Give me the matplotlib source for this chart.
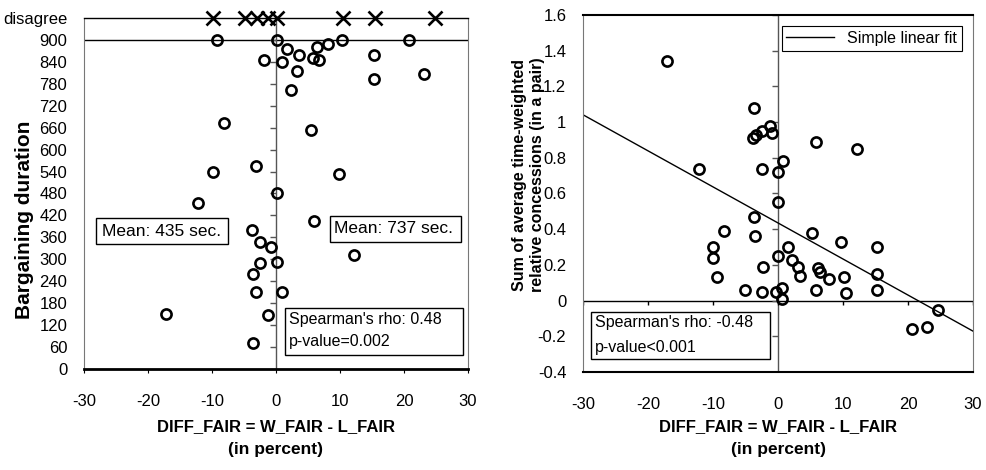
import numpy as np
import matplotlib
matplotlib.use("Agg")
import matplotlib.pyplot as plt
from matplotlib.lines import Line2D
from matplotlib.patches import Rectangle

plt.rcParams['font.family'] = ['Liberation Sans', 'DejaVu Sans']
plt.rcParams['axes.unicode_minus'] = False

# left panel: bargaining duration vs DIFF_FAIR
dur_x = [-9.2, 0.1, 10.3, 20.8, -8.2, -9.8, -12.2,
         1.7, -1.9, 0.9, 3.6, 3.3, 2.3, 6.4, 5.8, 6.7, 8.1, 15.3, 15.3, 23.1,
         -3.1, 5.5, 9.8, 0.1, 5.9,
         -3.8, -2.5, -0.8, -2.5, 0.1, -3.6, -3.1, 0.9, -1.2, -3.6, 12.2, -17.2]
dur_y = [900, 900, 900, 900, 672, 540, 455,
         876, 845, 841, 859, 815, 763, 881, 851, 845, 889, 859, 793, 808,
         554, 654, 534, 480, 406,
         380, 346, 333, 289, 292, 261, 210, 210, 147, 72, 311, 150]
disagree_x = [-9.8, -4.8, -2.9, -1.3, 0.1, 10.5, 15.5, 24.8]
DISAGREE = 960
dur_ticks = list(range(0, 901, 60))
dur_labels = [str(t) for t in dur_ticks]

# right panel: concessions vs DIFF_FAIR
con_x = [-17.1, -12.2, -8.3,
         -3.7, -3.8, -3.4, -2.5, -1.2, -0.9, 5.8, 12.2,
         -2.5, 0.0, 0.8, 0.0, -3.7, -3.6, 5.3,
         9.7, 15.2, 1.5, 0.0, -2.3, 2.2, 3.1, 3.4, 6.1, 6.4, 7.9, 10.1, 15.2,
         -5.1, -2.5, -0.3, 0.6, 0.6, 5.8, 10.5, 15.2,
         20.6, 22.9, 24.6,
         -10.0, -10.0, -9.4]
con_y = [1.34, 0.74, 0.39,
         1.08, 0.91, 0.93, 0.95, 0.98, 0.94, 0.89, 0.85,
         0.74, 0.72, 0.78, 0.55, 0.47, 0.36, 0.38,
         0.33, 0.30, 0.30, 0.25, 0.19, 0.23, 0.19, 0.14, 0.18, 0.16, 0.12, 0.13, 0.15,
         0.06, 0.05, 0.05, 0.07, 0.01, 0.06, 0.04, 0.06,
         -0.16, -0.15, -0.05,
         0.30, 0.24, 0.13]
fit_intercept = 0.435
fit_slope = -0.0202
con_ticks = [-0.4, -0.2, 0, 0.2, 0.4, 0.6, 0.8, 1, 1.2, 1.4, 1.6]
con_labels = ['-0.4', '-0.2', '0', '0.2', '0.4', '0.6', '0.8', '1', '1.2', '1.4', '1.6']

x_ticks = [-30, -20, -10, 0, 10, 20, 30]

fig = plt.figure(figsize=(9.86, 4.70), dpi=100, facecolor='white')
ax1 = fig.add_axes([0.0852, 0.2149, 0.3894, 0.7468])
ax2 = fig.add_axes([0.5913, 0.2085, 0.3955, 0.7596])

TICK_FS = 12
mk = dict(ls='none', marker='o', ms=7.3, mfc='none', mec='black', mew=1.9)


def text_box(ax, x0, y0, x1, y1, lines, tx, ty, fs):
    ax.add_patch(Rectangle((x0, y0), x1 - x0, y1 - y0, transform=ax.transAxes,
                           fc='white', ec='black', lw=1, zorder=4))
    for line, yy in zip(lines, ty):
        ax.text(tx, yy, line, transform=ax.transAxes, fontsize=fs, va='center', zorder=5)


# ---- left
ax1.set_xlim(-30, 30)
ax1.set_ylim(0, DISAGREE)
ax1.axhline(900, color='black', lw=1)
ax1.axvline(0, color='#555555', lw=1)
ax1.plot(np.zeros(len(dur_ticks)), dur_ticks, ls='none', marker=0, ms=4, color='#555555', mew=1)
ax1.plot(dur_x, dur_y, **mk)
ax1.plot(disagree_x, [DISAGREE] * len(disagree_x), ls='none', marker='x', ms=10.5,
         mec='black', mew=1.9, clip_on=False)
ax1.set_yticks(dur_ticks + [DISAGREE])
ax1.set_yticklabels(dur_labels + ['disagree'])
ax1.set_xticks(x_ticks)
ax1.tick_params(axis='y', length=0, pad=12, labelsize=TICK_FS)
ax1.tick_params(axis='x', length=3, pad=15, labelsize=TICK_FS, direction='out')
ax1.set_ylabel('Bargaining duration', fontsize=15, fontweight='bold')
ax1.yaxis.set_label_coords(-0.13, 0.424)
ax1.spines['top'].set_linewidth(1)
ax1.spines['bottom'].set_linewidth(2)
for s in ['left', 'right']:
    ax1.spines[s].set_color('#777777')
    ax1.spines[s].set_linewidth(0.8)
    ax1.spines[s].set_linestyle((0, (3, 1)))

text_box(ax1, 0.031, 0.356, 0.375, 0.430, ['Mean: 435 sec.'], 0.046, [0.393], 12.5)
text_box(ax1, 0.641, 0.362, 0.982, 0.436, ['Mean: 737 sec.'], 0.651, [0.399], 12.5)
text_box(ax1, 0.523, 0.040, 0.987, 0.174, ["Spearman's rho: 0.48", 'p-value=0.002'],
         0.534, [0.140, 0.077], 11.5)

# ---- right
ax2.set_xlim(-30, 30)
ax2.set_ylim(-0.4, 1.6)
ax2.axhline(0, color='black', lw=1)
ax2.axvline(0, color='#555555', lw=1)
ax2.plot(np.zeros(len(con_ticks)), con_ticks, ls='none', marker=0, ms=4, color='#555555', mew=1)
ax2.plot(x_ticks, np.zeros(len(x_ticks)), ls='none', marker=3, ms=3, color='black', mew=1)
xs = np.array([-30, 30])
ax2.plot(xs, fit_intercept + fit_slope * xs, color='black', lw=1)
ax2.plot(con_x, con_y, **mk)
ax2.set_yticks(con_ticks)
ax2.set_yticklabels(con_labels)
ax2.set_xticks(x_ticks)
ax2.tick_params(axis='y', length=0, pad=12, labelsize=TICK_FS)
ax2.tick_params(axis='x', length=0, pad=18, labelsize=TICK_FS)
ax2.set_ylabel('Sum of average time-weighted\nrelative concessions (in a pair)',
               fontsize=11.5, fontweight='bold', linespacing=1.25)
ax2.yaxis.set_label_coords(-0.097, 0.552)
ax2.spines['top'].set_linewidth(1.5)
ax2.spines['bottom'].set_linewidth(1.5)
for s in ['left', 'right']:
    ax2.spines[s].set_color('#777777')
    ax2.spines[s].set_linewidth(0.8)
    ax2.spines[s].set_linestyle((0, (3, 1)))
text_box(ax2, 0.021, 0.036, 0.479, 0.168, ["Spearman's rho: -0.48", 'p-value<0.001'],
         0.031, [0.140, 0.070], 11.5)
leg = ax2.legend(handles=[Line2D([], [], color='black', lw=1)], labels=['Simple linear fit'],
                 loc='upper right', fontsize=11.5, handlelength=3, borderaxespad=0.7,
                 fancybox=False, framealpha=1, edgecolor='black', borderpad=0.3)
leg.get_frame().set_linewidth(0.8)

for ax in (ax1, ax2):
    cx = (ax.get_position().x0 + ax.get_position().x1) / 2
    fig.text(cx, 0.0915, 'DIFF_FAIR = W_FAIR - L_FAIR', ha='center', va='center',
             fontsize=12, fontweight='bold')
    fig.text(cx, 0.0426, '(in percent)', ha='center', va='center', fontsize=12.5, fontweight='bold')

fig.savefig('out.png', dpi=100, facecolor='white')
